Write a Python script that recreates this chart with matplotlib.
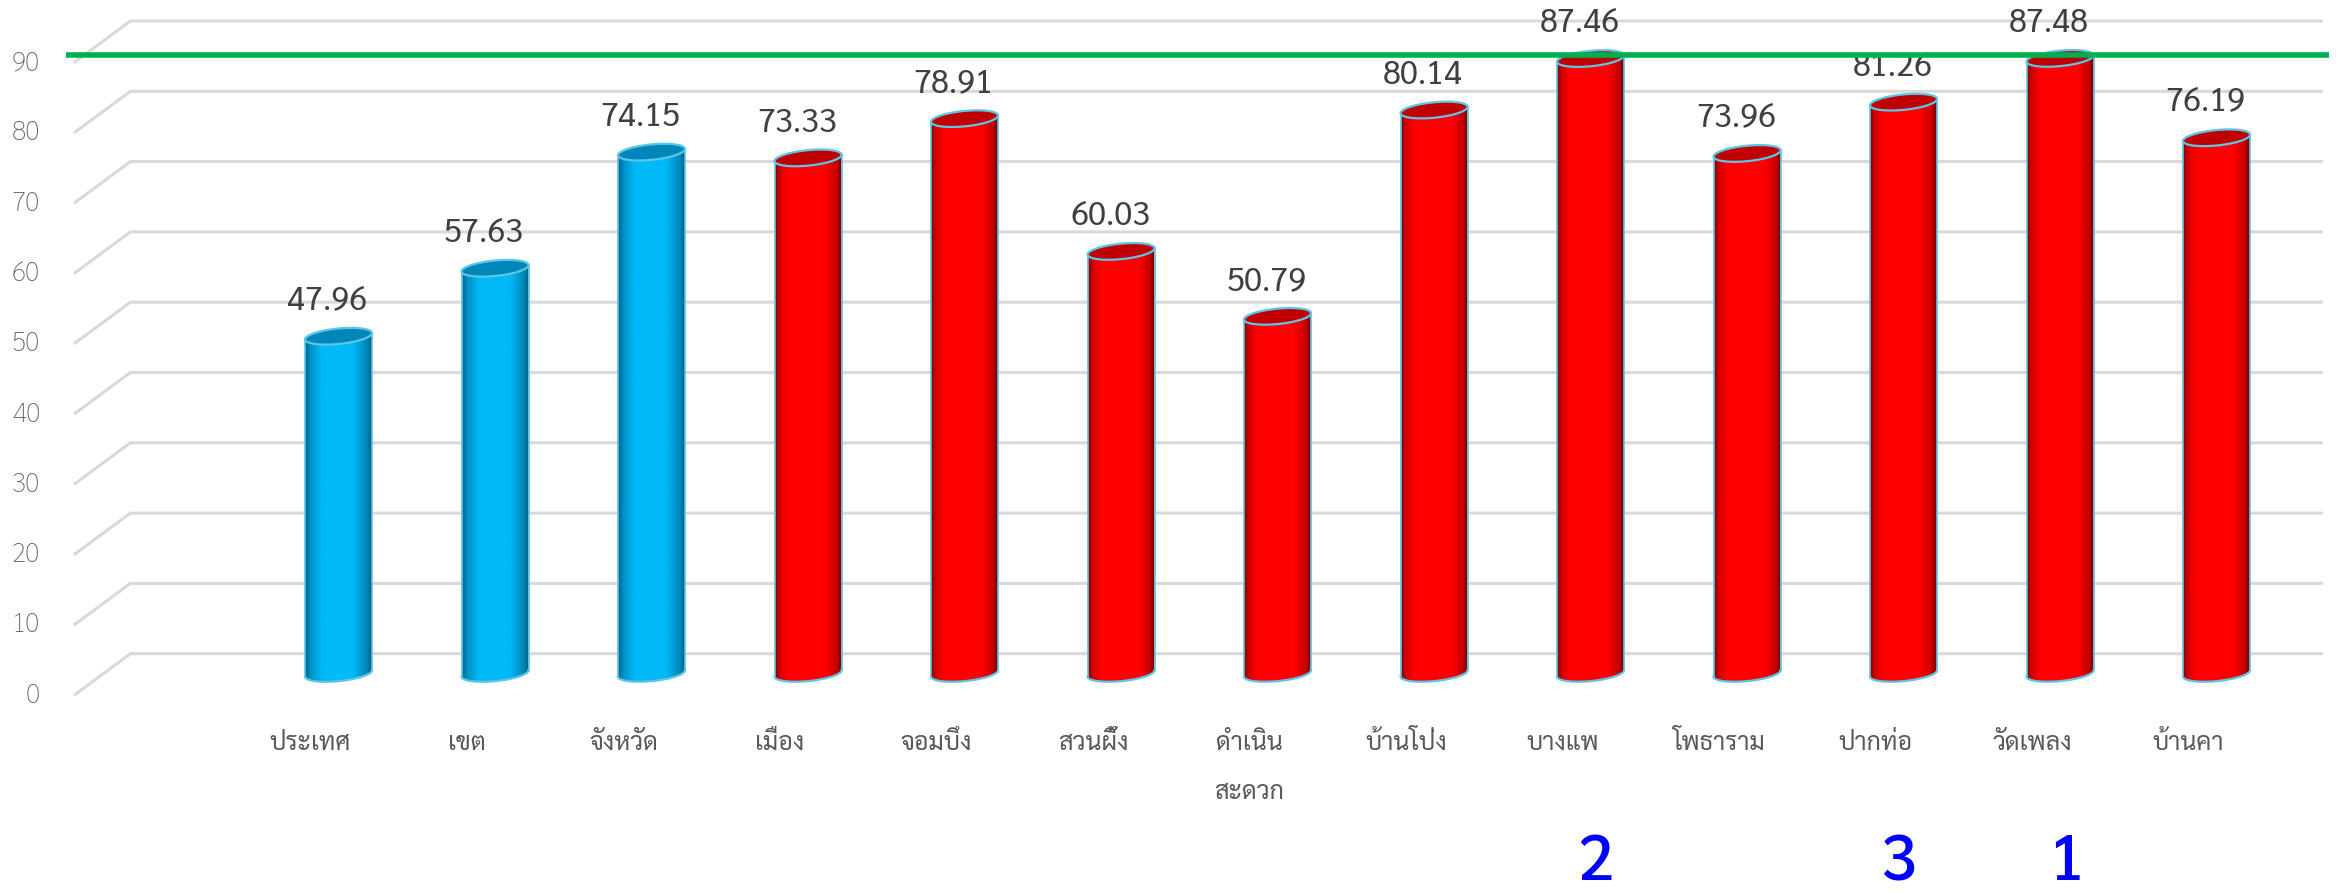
import numpy as np
import matplotlib
matplotlib.use('Agg')
import matplotlib.pyplot as plt
from matplotlib.colors import LinearSegmentedColormap
from matplotlib.patches import Polygon

plt.rcParams['font.family'] = ['Sarabun', 'Noto Sans Thai', 'DejaVu Sans']

categories = ['ประเทศ', 'เขต', 'จังหวัด', 'เมือง', 'จอมบึง', 'สวนผึ้ง', 'ดำเนิน\nสะดวก',
              'บ้านโป่ง', 'บางแพ', 'โพธาราม', 'ปากท่อ', 'วัดเพลง', 'บ้านคา']
values = [47.96, 57.63, 74.15, 73.33, 78.91, 60.03, 50.79,
          80.14, 87.46, 73.96, 81.26, 87.48, 76.19]
n_blue = 3
y_ticks = [0, 10, 20, 30, 40, 50, 60, 70, 80, 90]
target = 87.9
ranks = ['2', '3', '1']
rank_cats = [8, 10, 11]

blue_cmap = LinearSegmentedColormap.from_list(
    'blue', [(0, '#00648c'), (0.08, '#0090c4'), (0.25, '#00b9f7'), (0.72, '#00b9f7'), (0.92, '#0088b8'), (1, '#005f85')])
red_cmap = LinearSegmentedColormap.from_list(
    'red', [(0, '#800000'), (0.07, '#d00000'), (0.2, '#ff0000'), (0.75, '#ff0000'), (0.92, '#c80000'), (1, '#700000')])
EDGE = '#5cc6e8'

fig = plt.figure(figsize=(23.43, 8.95), dpi=100)
ax = fig.add_axes([0, 0, 1, 1])
ax.axis('off')

half_w = 0.214  # bar half width in category units
tilt = 0.45     # rise of the ellipse from centre to right end, value units
minor = 1.1     # ellipse half height, value units
t = np.linspace(0, 2 * np.pi, 120)

# walls: each tick has a short diagonal from front to back, then the back line
for v in y_ticks:
    ax.plot([-1.683, -1.33, 12.67], [v - 3.0, v + 2.8, v + 2.8], color='#d9d9d9', lw=2.2, zorder=1,
            solid_joinstyle='miter')
    ax.text(-1.907, v - 3.0, str(v), ha='right', va='center', fontsize=19, color='#666666', fontweight='light')

for i, (cat, val) in enumerate(zip(categories, values)):
    cmap = blue_cmap if i < n_blue else red_cmap
    top_fill = '#0086b8' if i < n_blue else '#c00000'
    ell_x = i + half_w * np.cos(t)
    # body outline: base lower half then top edge
    low = np.linspace(np.pi, 2 * np.pi, 60)
    up = np.linspace(0, np.pi, 60)
    body_x = np.r_[i + half_w * np.cos(low), i + half_w * np.cos(up)]
    body_y = np.r_[minor * np.sin(low) + tilt * np.cos(low), val + minor * np.sin(up) + tilt * np.cos(up)]
    grad = np.linspace(0, 1, 256).reshape(1, -1)
    im = ax.imshow(grad, cmap=cmap, extent=[i - half_w, i + half_w, -3, val + 3], aspect='auto', zorder=3)
    im.set_clip_path(Polygon(np.c_[body_x, body_y], transform=ax.transData))
    ax.plot(body_x[:60], body_y[:60], color=EDGE, lw=1.6, zorder=4)
    ax.plot([i - half_w, i - half_w], [-tilt, val - tilt], color=EDGE, lw=1.2, zorder=4)
    ax.plot([i + half_w, i + half_w], [tilt, val + tilt], color=EDGE, lw=1.2, zorder=4)
    ax.fill(ell_x, val + minor * np.sin(t) + tilt * np.cos(t), facecolor=top_fill, edgecolor=EDGE, lw=1.6, zorder=5)
    ax.text(i - 0.07, val + 5.1, f'{val:.2f}', ha='center', va='center', fontsize=23.5, color='#404040', zorder=6)
    ax.text(i - 0.18, -8.1, cat, ha='center', va='top', fontsize=18, color='#595959', linespacing=2.25, zorder=6)

ax.plot([-1.74, 12.72], [target, target], color='#00b050', lw=4, solid_capstyle='butt', zorder=7)

for r, c, dx, yy in zip(ranks, rank_cats, [0.03, -0.03, 0.04], [-27.0, -27.0, -27.0]):
    ax.text(c + dx, yy, r, ha='center', va='center', fontsize=47, color='#0000ff', fontweight='medium', zorder=6)

ax.set_xlim(-2.163, 12.808)
ax.set_ylim(-31.38, 95.93)
fig.savefig('out.png', dpi=100)
